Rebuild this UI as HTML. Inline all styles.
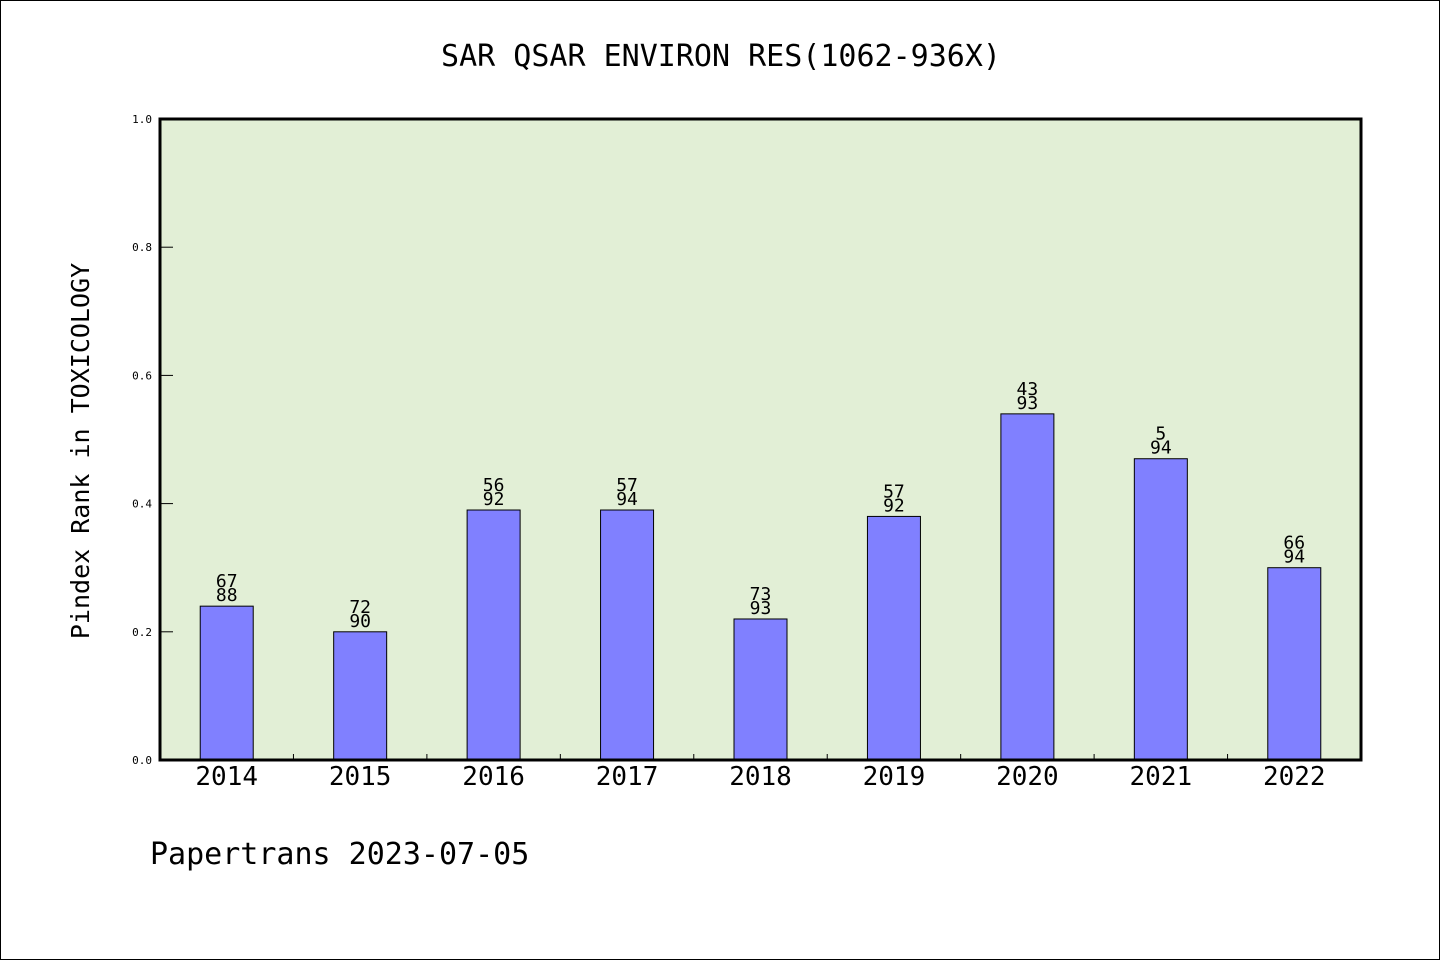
<!DOCTYPE html>
<html><head><meta charset="utf-8"><style>
body{margin:0;background:#fff}
svg{display:block}
text{font-family:"WenQuanYi Zen Hei Mono","DejaVu Sans Mono","Liberation Mono",monospace;fill:#000}
</style></head><body>
<svg id="c" width="1440" height="960">
<rect x="0.5" y="0.5" width="1439" height="959" fill="#fff" stroke="#000"/>
<text x="721" y="66" font-size="30" text-anchor="middle">SAR QSAR ENVIRON RES(1062-936X)</text>
<rect x="160" y="119" width="1201" height="641" fill="#e2efd6"/>
<g id="marks"></g>
<rect x="160" y="119" width="1201" height="641" fill="none" stroke="#000" stroke-width="3"/>
<text transform="translate(89,451) rotate(-90)" font-size="25" text-anchor="middle">Pindex Rank in TOXICOLOGY</text>
<text x="150" y="864" font-size="30">Papertrans 2023-07-05</text>
</svg>
<script>
const categories=["2014","2015","2016","2017","2018","2019","2020","2021","2022"];
const values=[0.24,0.20,0.39,0.39,0.22,0.38,0.54,0.47,0.30];
const ranks=["67","72","56","57","73","57","43","5","66"];
const totals=["88","90","92","94","93","92","93","94","94"];
const yTicks=[0,0.2,0.4,0.6,0.8,1.0];
const X0=160,X1=1361,Y0=760,Y1=119;
const step=(X1-X0)/categories.length;
const y=v=>Y0-(Y0-Y1)*v;
const xc=i=>X0+step*(i+0.5);
const g=document.getElementById('marks');
const NS='http://www.w3.org/2000/svg';
function mk(t,a){const e=document.createElementNS(NS,t);for(const k in a)e.setAttribute(k,a[k]);g.appendChild(e);return e;}
yTicks.forEach(t=>{
 const l=mk('line',{x1:160,x2:173,y1:y(t),y2:y(t),stroke:'#000','stroke-width':1});
 
 
 const tx=mk('text',{x:152,y:y(t)+4,'font-size':11,'text-anchor':'end'});
 tx.textContent=t.toFixed(1);
 
 
});
for(let i=1;i<categories.length;i++){
 const l=mk('line',{x1:X0+step*i,x2:X0+step*i,y1:Y0,y2:Y0-6,stroke:'#000','stroke-width':1});
 
 
}
const bw=53;
categories.forEach((c,i)=>{
 const b=mk('rect',{x:xc(i)-bw/2,y:y(values[i]),width:bw,height:Y0-y(values[i]),fill:'#8080ff',stroke:'#000','stroke-width':1});
 
 
 const t1=mk('text',{x:xc(i),y:y(values[i])-19,'font-size':18,'text-anchor':'middle'});
 t1.textContent=ranks[i];
 
 
 const t2=mk('text',{x:xc(i),y:y(values[i])-5,'font-size':18,'text-anchor':'middle'});
 t2.textContent=totals[i];
 
 
 const xl=mk('text',{x:xc(i),y:785,'font-size':26,'text-anchor':'middle'});
 xl.textContent=c;
 
 
});
</script>
</body></html>
